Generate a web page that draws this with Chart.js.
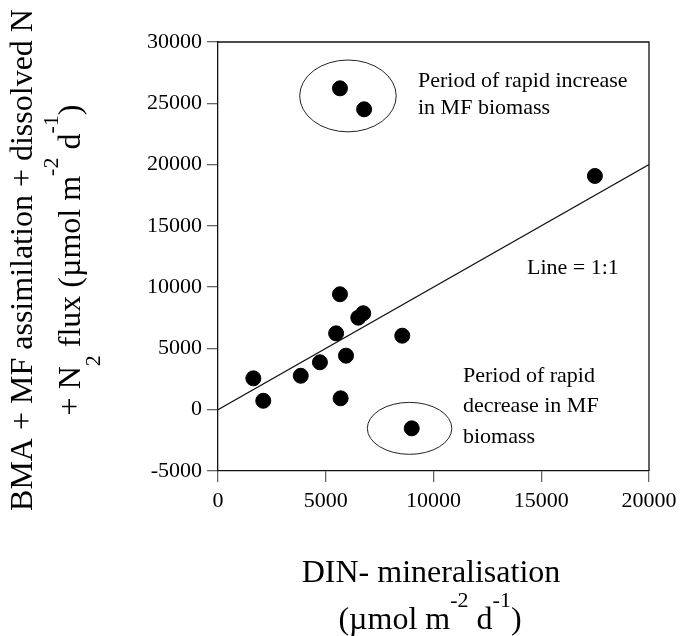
<!DOCTYPE html>
<html>
<head>
<meta charset="utf-8">
<script src="https://cdn.jsdelivr.net/npm/chart.js@4.4.1/dist/chart.umd.min.js"></script>
<style>
  html, body { margin: 0; padding: 0; background: #fff; }
  #chart { display: block; }
</style>
</head>
<body>
<canvas id="chart" width="683" height="636"></canvas>
<script>
// data (µmol m-2 d-1)
const dinMineralisation = [1640, 2100, 3840, 4730, 5480, 5660, 5690, 5940, 6510, 6740, 8550, 8990, 5660, 6780, 17490];
const nAssimilation     = [2560, 730, 2770, 3870, 6230, 9420, 930, 4410, 7510, 7870, 6040, -1520, 26220, 24510, 19070];

const oneToOneX = [0, 20000];
const oneToOneY = [0, 20000];

const xTicks = [0, 5000, 10000, 15000, 20000];
const yTicks = [-5000, 0, 5000, 10000, 15000, 20000, 25000, 30000];

// circled groups, in data units: centre x, centre y, radius x, radius y
const groupEllipses = [
  [6030, 25600, 2240, 2930],
  [8890, -1520, 1960, 2120]
];

const FONT = "'Liberation Serif', 'Times New Roman', serif";

// draws text pieces with sup/sub shifts, centred on (0,0) baseline
function drawRich(ctx, parts, big, small) {
  let total = 0;
  parts.forEach(p => {
    ctx.font = (p.s ? small : big) + 'px ' + FONT;
    p.w = ctx.measureText(p.t).width;
    total += p.w;
  });
  let x = -total / 2;
  ctx.textAlign = 'left';
  ctx.textBaseline = 'alphabetic';
  parts.forEach(p => {
    ctx.font = (p.s ? small : big) + 'px ' + FONT;
    let dy = 0;
    if (p.s === 'sup') dy = -22;
    if (p.s === 'sub') dy = 20;
    ctx.fillText(p.t, x, dy);
    x += p.w;
  });
}

const decorations = {
  id: 'decorations',
  afterDraw(chart) {
    const { ctx, chartArea: a, scales: { x, y } } = chart;
    ctx.save();

    // frame top + right
    ctx.strokeStyle = '#111';
    ctx.lineWidth = 1.3;
    ctx.beginPath();
    ctx.moveTo(a.left, a.top);
    ctx.lineTo(a.right, a.top);
    ctx.lineTo(a.right, a.bottom);
    ctx.stroke();

    // ellipses round the groups
    ctx.lineWidth = 1;
    ctx.strokeStyle = '#222';
    groupEllipses.forEach(e => {
      const cx = x.getPixelForValue(e[0]);
      const cy = y.getPixelForValue(e[1]);
      const rx = Math.abs(x.getPixelForValue(e[0] + e[2]) - cx);
      const ry = Math.abs(y.getPixelForValue(e[1] + e[3]) - cy);
      ctx.beginPath();
      ctx.ellipse(cx, cy, rx, ry, 0, 0, Math.PI * 2);
      ctx.stroke();
    });

    // notes inside the plot
    ctx.fillStyle = '#000';
    ctx.font = '22px ' + FONT;
    ctx.textAlign = 'left';
    ctx.textBaseline = 'alphabetic';
    ctx.fillText('Period of rapid increase', 418, 87);
    ctx.fillText('in MF biomass', 418, 114);
    ctx.fillText('Line = 1:1', 527, 274);
    ctx.fillText('Period of rapid', 463, 382);
    ctx.fillText('decrease in MF', 463, 412);
    ctx.fillText('biomass', 463, 443);

    // x title
    ctx.save();
    ctx.translate(431, 582);
    drawRich(ctx, [{ t: 'DIN- mineralisation' }], 32, 22);
    ctx.restore();
    ctx.save();
    ctx.translate(430, 629);
    drawRich(ctx, [
      { t: '(\u00b5mol m' }, { t: '-2', s: 'sup' }, { t: ' d' }, { t: '-1', s: 'sup' }, { t: ')' }
    ], 32, 22);
    ctx.restore();

    // y title (two rotated lines)
    ctx.save();
    ctx.translate(32, 260);
    ctx.rotate(-Math.PI / 2);
    drawRich(ctx, [{ t: 'BMA + MF assimilation + dissolved N' }], 32, 22);
    ctx.restore();
    ctx.save();
    ctx.translate(80, 260);
    ctx.rotate(-Math.PI / 2);
    drawRich(ctx, [
      { t: '+ N' }, { t: '2', s: 'sub' }, { t: ' flux (\u00b5mol m' }, { t: '-2', s: 'sup' },
      { t: ' d' }, { t: '-1', s: 'sup' }, { t: ')' }
    ], 32, 22);
    ctx.restore();

    ctx.restore();
  }
};

const ctx = document.getElementById('chart').getContext('2d');

new Chart(ctx, {
  type: 'scatter',
  data: {
    datasets: [
      {
        label: 'Line = 1:1',
        type: 'line',
        data: oneToOneX.map((v, i) => ({ x: v, y: oneToOneY[i] })),
        borderColor: '#111',
        borderWidth: 1.1,
        pointRadius: 0,
        fill: false,
        order: 2
      },
      {
        label: 'observations',
        data: dinMineralisation.map((v, i) => ({ x: v, y: nAssimilation[i] })),
        backgroundColor: '#000',
        borderColor: '#000',
        pointRadius: 7.5,
        order: 1
      }
    ]
  },
  options: {
    responsive: false,
    animation: false,
    layout: { padding: { top: 42, right: 34, left: 0, bottom: 0 } },
    plugins: {
      legend: { display: false },
      tooltip: { enabled: false }
    },
    scales: {
      x: {
        type: 'linear',
        min: 0,
        max: 20000,
        afterBuildTicks: s => { s.ticks = xTicks.map(v => ({ value: v })); },
        afterFit: s => { s.height = 165; },
        ticks: {
          color: '#000',
          font: { family: FONT, size: 22 },
          padding: 6,
          callback: v => String(v)
        },
        grid: { drawOnChartArea: false, drawTicks: true, tickLength: 11, color: '#666', lineWidth: 1.3 },
        border: { display: true, color: '#111', width: 1.3 }
      },
      y: {
        type: 'linear',
        min: -5000,
        max: 30000,
        afterBuildTicks: s => { s.ticks = yTicks.map(v => ({ value: v })); },
        afterFit: s => { s.width = 218; },
        ticks: {
          color: '#000',
          font: { family: FONT, size: 22 },
          padding: 5,
          callback: v => String(v)
        },
        grid: { drawOnChartArea: false, drawTicks: true, tickLength: 11, color: '#666', lineWidth: 1.3 },
        border: { display: true, color: '#111', width: 1.3 }
      }
    }
  },
  plugins: [decorations]
});
</script>
</body>
</html>
